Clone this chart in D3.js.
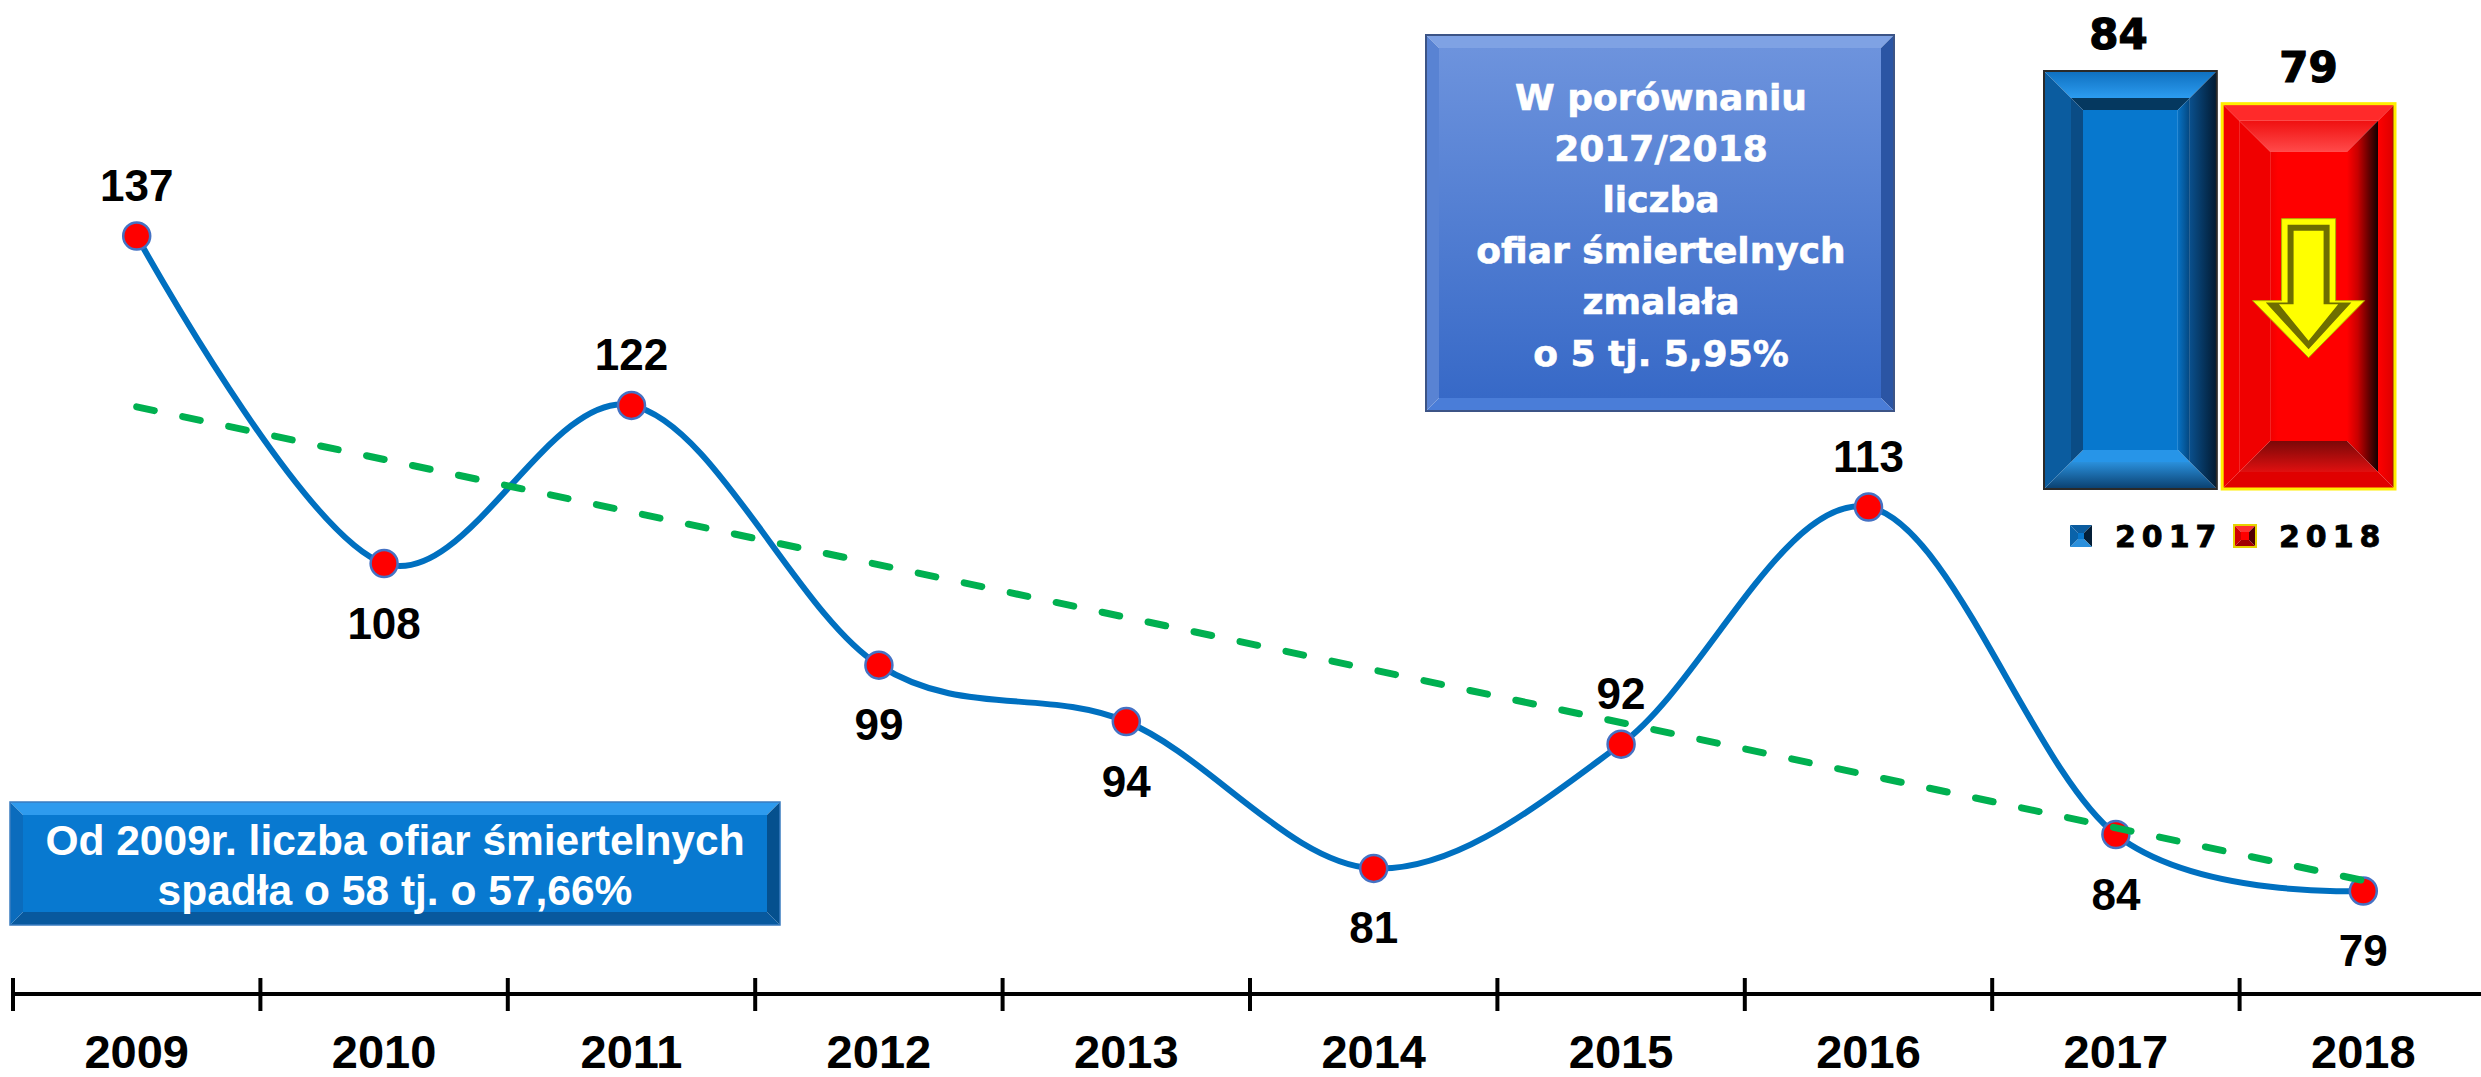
<!DOCTYPE html>
<html>
<head>
<meta charset="utf-8">
<script src="https://cdn.jsdelivr.net/npm/d3@7/dist/d3.min.js"></script>
<style>
  body { margin: 0; background: #fff; }
  svg { display: block; }
</style>
</head>
<body>
<div id="chart"></div>
<script>
var width = 2481,
    height = 1077

// data
var years = ['2009', '2010', '2011', '2012', '2013', '2014', '2015', '2016', '2017', '2018']
var victims = [137, 108, 122, 99, 94, 81, 92, 113, 84, 79]
var labelAbove = [true, false, true, false, false, false, true, true, false, false]

var compareYears = ['2017', '2018']
var compareValues = [84, 79]

var noteTop = ['W porównaniu', '2017/2018', 'liczba', 'ofiar śmiertelnych', 'zmalała', 'o 5 tj. 5,95%']
var noteBottom = ['Od 2009r. liczba ofiar śmiertelnych', 'spadła o 58 tj. o 57,66%']

var svg = d3.select('#chart')
  .append('svg')
  .attr('width', width)
  .attr('height', height)

var defs = svg.append('defs')

function grad(id, x2, y2, stops) {
  var g = defs.append('linearGradient').attr('id', id)
    .attr('x1', 0).attr('y1', 0).attr('x2', x2).attr('y2', y2)
  stops.forEach(function (s) {
    g.append('stop').attr('offset', s[0]).attr('stop-color', s[1])
  })
}
grad('boxTop', 0, 1, [[0, '#6D93DD'], [1, '#3769C7']])
grad('redFace', 1, 0, [[0, '#F00000'], [0.1, '#FF0000'], [1, '#FF0000']])
grad('redInRight', 1, 0, [[0, '#FF0000'], [0.35, '#C80000'], [1, '#100000']])
grad('redRight', 1, 0, [[0, '#FF0000'], [0.8, '#E00000'], [1, '#5A3A00']])
grad('redInTop', 0, 1, [[0, '#F01010'], [1, '#FF4A4A']])
grad('redInBot', 0, 1, [[0, '#7A0808'], [1, '#E01010']])
grad('blueBot', 0, 1, [[0, '#2A90DC'], [1, '#0A3F6E']])
grad('blueTop', 0, 1, [[0, '#0E6FBF'], [1, '#2C9CF0']])
grad('blueRight', 1, 0, [[0, '#0A4F8C'], [1, '#021A30']])
grad('blueInRight', 1, 0, [[0, '#0772C4'], [1, '#04467E']])

// draws a bevelled rectangle out of four trapezoids and a face
function bevel(g, x, y, w, h, b, c) {
  var pts = {
    top: [[x, y], [x + w, y], [x + w - b, y + b], [x + b, y + b]],
    right: [[x + w, y], [x + w, y + h], [x + w - b, y + h - b], [x + w - b, y + b]],
    bottom: [[x, y + h], [x + w, y + h], [x + w - b, y + h - b], [x + b, y + h - b]],
    left: [[x, y], [x, y + h], [x + b, y + h - b], [x + b, y + b]]
  }
  Object.keys(pts).forEach(function (k) {
    g.append('polygon').attr('points', pts[k].join(' ')).attr('fill', c[k])
  })
  if (c.face) {
    g.append('rect').attr('x', x + b).attr('y', y + b)
      .attr('width', w - 2 * b).attr('height', h - 2 * b).attr('fill', c.face)
  }
}

// ---- scales
var x = d3.scaleBand().domain(years).range([13, 2487])
var y = d3.scaleLinear().domain([79, 137]).range([891, 236])
var cx = function (d, i) { return x(years[i]) + x.bandwidth() / 2 }

// ---- bottom-left note
var nb = svg.append('g')
bevel(nb, 10, 802, 770, 123, 13, {
  top: '#2E9BEE', right: '#05508E', bottom: '#08599E', left: '#0B6CBD', face: '#0879D0'
})
nb.append('rect').attr('x', 10).attr('y', 802).attr('width', 770).attr('height', 123)
  .attr('fill', 'none').attr('stroke', '#3A7CC0').attr('stroke-width', 1.5)
nb.selectAll('text')
  .data(noteBottom)
  .enter().append('text')
  .attr('x', 395)
  .attr('y', function (d, i) { return 855 + i * 50 })
  .attr('text-anchor', 'middle')
  .attr('font-family', 'Liberation Sans, Arial, sans-serif')
  .attr('font-weight', 'bold')
  .attr('font-size', 42.5)
  .attr('fill', '#fff')
  .text(function (d) { return d })

// ---- top note
var nt = svg.append('g')
bevel(nt, 1426, 35, 468, 376, 13, {
  top: '#7FA2E4', right: '#2B55A4', bottom: '#4A7DD8', left: '#5983D3'
})
nt.append('rect').attr('x', 1439).attr('y', 48).attr('width', 442).attr('height', 350)
  .attr('fill', 'url(#boxTop)')
nt.append('rect').attr('x', 1426).attr('y', 35).attr('width', 468).attr('height', 376)
  .attr('fill', 'none').attr('stroke', '#3C5486').attr('stroke-width', 2)
nt.selectAll('text')
  .data(noteTop)
  .enter().append('text')
  .attr('x', 1661)
  .attr('y', function (d, i) { return 110 + i * 51.1 })
  .attr('text-anchor', 'middle')
  .attr('font-family', 'DejaVu Sans, sans-serif')
  .attr('font-weight', 'bold')
  .attr('font-size', 36)
  .attr('fill', '#fff')
  .attr('stroke', '#fff')
  .attr('stroke-width', 0.6)
  .text(function (d) { return d })

// ---- axis
var axis = svg.append('g')
axis.append('line')
  .attr('x1', x.range()[0]).attr('x2', width)
  .attr('y1', 994).attr('y2', 994)
  .attr('stroke', '#000').attr('stroke-width', 4)
axis.selectAll('.tick')
  .data(years)
  .enter().append('line')
  .attr('x1', function (d) { return x(d) })
  .attr('x2', function (d) { return x(d) })
  .attr('y1', 978).attr('y2', 1011)
  .attr('stroke', '#000').attr('stroke-width', 4)
axis.selectAll('text')
  .data(years)
  .enter().append('text')
  .attr('x', function (d) { return x(d) + x.bandwidth() / 2 })
  .attr('y', 1068)
  .attr('text-anchor', 'middle')
  .attr('font-family', 'Liberation Sans, Arial, sans-serif')
  .attr('font-weight', 'bold')
  .attr('font-size', 47)
  .text(function (d) { return d })

// ---- smooth line
var line = d3.line()
  .x(cx)
  .y(function (d) { return y(d) })
  .curve(d3.curveCardinal.tension(0))

svg.append('path')
  .datum(victims)
  .attr('d', line)
  .attr('fill', 'none')
  .attr('stroke', '#0070C0')
  .attr('stroke-width', 6)

svg.selectAll('.dot')
  .data(victims)
  .enter().append('circle')
  .attr('cx', cx)
  .attr('cy', function (d) { return y(d) })
  .attr('r', 13.5)
  .attr('fill', '#FF0000')
  .attr('stroke', '#4472C4')
  .attr('stroke-width', 2.5)

// ---- linear trend (least squares)
var n = victims.length
var mx = d3.mean(victims, function (d, i) { return i })
var my = d3.mean(victims)
var sxy = d3.sum(victims, function (d, i) { return (i - mx) * (d - my) })
var sxx = d3.sum(victims, function (d, i) { return (i - mx) * (i - mx) })
var slope = sxy / sxx
var icpt = my - slope * mx
var trend = [0, n - 1].map(function (i) { return { i: i, v: icpt + slope * i } })

svg.append('path')
  .datum(trend)
  .attr('d', d3.line()
    .x(function (d) { return x(years[d.i]) + x.bandwidth() / 2 })
    .y(function (d) { return y(d.v) }))
  .attr('fill', 'none')
  .attr('stroke', '#00B050')
  .attr('stroke-width', 7)
  .attr('stroke-linecap', 'round')
  .attr('stroke-dasharray', '18,29')

// ---- value labels
svg.selectAll('.lbl')
  .data(victims)
  .enter().append('text')
  .attr('x', cx)
  .attr('y', function (d, i) { return labelAbove[i] ? y(d) - 35 : y(d) + 75 })
  .attr('text-anchor', 'middle')
  .attr('font-family', 'Liberation Sans, Arial, sans-serif')
  .attr('font-weight', 'bold')
  .attr('font-size', 44)
  .text(function (d) { return d })

// ---- 2017 / 2018 comparison bars
var xb = d3.scaleBand().domain(compareYears).range([2044, 2395]).paddingInner(0.03)
var yb = d3.scaleLinear().domain([20, 84]).range([489, 71])
var bw = xb.bandwidth()

var gb = svg.append('g')
compareYears.forEach(function (yr, i) {
  var bx = xb(yr), by = yb(compareValues[i]), bh = yb(yb.domain()[0]) - by
  var g = gb.append('g')
  if (i === 0) {
    bevel(g, bx, by, bw, bh, 27, {
      top: 'url(#blueTop)', right: 'url(#blueRight)', bottom: 'url(#blueBot)', left: '#0B5C9F'
    })
    bevel(g, bx + 27, by + 27, bw - 54, bh - 54, 12, {
      top: '#05385F', right: 'url(#blueInRight)', bottom: '#2795E8', left: '#0A4C85', face: '#0778CE'
    })
    g.append('rect').attr('x', bx).attr('y', by).attr('width', bw).attr('height', bh)
      .attr('fill', 'none').attr('stroke', '#2a2a2a').attr('stroke-width', 2)
  } else {
    bevel(g, bx, by, bw, bh, 17, {
      top: '#FF2A2A', right: 'url(#redRight)', bottom: '#E00000', left: '#F00000'
    })
    bevel(g, bx + 17, by + 17, bw - 34, bh - 34, 31, {
      top: 'url(#redInTop)', right: 'url(#redInRight)', bottom: 'url(#redInBot)', left: '#F00000'
    })
    g.append('rect').attr('x', bx + 48).attr('y', by + 48)
      .attr('width', bw - 96).attr('height', bh - 96).attr('fill', 'url(#redFace)')
    g.append('rect').attr('x', bx).attr('y', by).attr('width', bw).attr('height', bh)
      .attr('fill', 'none').attr('stroke', '#FFEE00').attr('stroke-width', 3)

    // down arrow
    var ax = bx + bw / 2, at = by + 115
    var arrow = function (k) {
      return [[ax - 27 + k, at + k], [ax + 27 - k, at + k], [ax + 27 - k, at + 82 + k * 0.3],
        [ax + 56 - k * 2.2, at + 82 + k * 0.3], [ax, at + 139 - k * 1.4],
        [ax - 56 + k * 2.2, at + 82 + k * 0.3], [ax - 27 + k, at + 82 + k * 0.3]].join(' ')
    }
    g.append('polygon').attr('points', arrow(0)).attr('fill', '#FFFF00')
      .attr('stroke', '#B0B000').attr('stroke-width', 1)
    g.append('polygon').attr('points', arrow(6)).attr('fill', '#6E6E00')
    g.append('polygon').attr('points', arrow(12)).attr('fill', '#FFFF00')
  }
  gb.append('text')
    .attr('x', bx + bw / 2 - (i === 0 ? 12 : 0))
    .attr('y', by - 22)
    .attr('text-anchor', 'middle')
    .attr('font-family', 'DejaVu Sans, sans-serif')
    .attr('font-weight', 'bold')
    .attr('font-size', 42)
    .attr('stroke', '#000')
    .attr('stroke-width', 1.2)
    .text(compareValues[i])
})

// ---- legend
var lg = svg.append('g')
var legX = [2070, 2234]
compareYears.forEach(function (yr, i) {
  var g = lg.append('g')
  if (i === 0) {
    bevel(g, legX[i], 525, 22, 22, 8, {
      top: '#0B5C9F', right: '#041F38', bottom: '#2A8FDC', left: '#0A63AA', face: '#0878CE'
    })
  } else {
    bevel(g, legX[i], 525, 22, 22, 7, {
      top: '#FF3030', right: '#500000', bottom: '#A00000', left: '#D00000', face: '#FF0000'
    })
    g.append('rect').attr('x', legX[i]).attr('y', 525).attr('width', 22).attr('height', 22)
      .attr('fill', 'none').attr('stroke', '#E6D200').attr('stroke-width', 2)
  }
  lg.append('text')
    .attr('x', legX[i] + 45)
    .attr('y', 547)
    .attr('font-family', 'DejaVu Sans, sans-serif')
    .attr('font-weight', 'bold')
    .attr('font-size', 30)
    .attr('letter-spacing', 6)
    .attr('stroke', '#000')
    .attr('stroke-width', 0.8)
    .text(yr)
})
</script>
</body>
</html>
